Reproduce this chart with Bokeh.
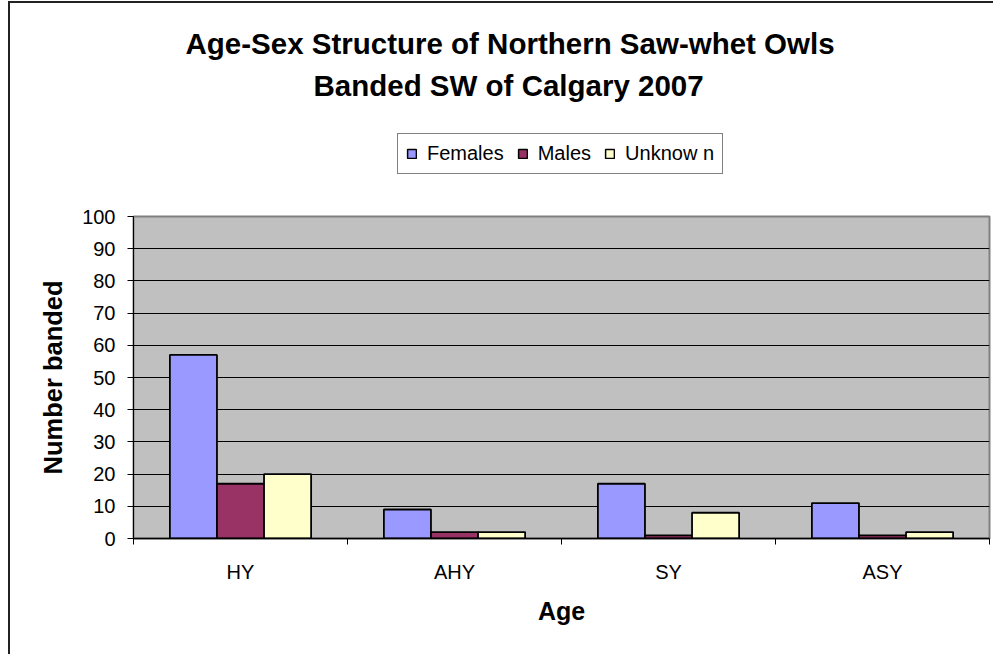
from bokeh.plotting import figure
from bokeh.layouts import column
from bokeh.models import ColumnDataSource, Range1d, FixedTicker, Label, Legend, LegendItem
from bokeh.transform import dodge
from bokeh.embed import file_html
from bokeh.resources import INLINE

# ---- data ----
ages = ["HY", "AHY", "SY", "ASY"]
females = [57, 9, 17, 11]
males = [17, 2, 1, 1]
unknown = [20, 2, 8, 2]
series_names = ["Females", "Males", "Unknow n"]
series_colors = ["#9999FF", "#993366", "#FFFFCC"]
y_ticks = list(range(0, 101, 10))
title_lines = ["Age-Sex Structure of Northern Saw-whet Owls", "Banded SW of Calgary 2007"]
x_title = "Age"
y_title = "Number banded"

FONT = "Liberation Sans"
W = 983
H_HEAD = 195
H_MAIN = 456

centers = [i + 0.5 for i in range(len(ages))]
src = ColumnDataSource(dict(x=centers, Females=females, Males=males, Unknown=unknown))
cols = ["Females", "Males", "Unknown"]
bw = 0.22
offsets = [-bw, 0, bw]

# ---------------- header (title + legend) ----------------
head = figure(width=W, height=H_HEAD, output_backend="svg", toolbar_location=None,
              x_range=Range1d(0, len(ages)), y_range=Range1d(0, 1),
              x_axis_location=None, y_axis_location=None,
              min_border=0, min_border_left=0, min_border_right=0,
              min_border_top=0, min_border_bottom=0)
head.grid.visible = False
head.outline_line_color = None
head.background_fill_color = "white"
head.border_fill_color = "white"

# legend keys only: one undefined (NaN) bar each, so nothing is drawn in the header
key_src = ColumnDataSource(dict(x=[float("nan")], top=[float("nan")]))
items = []
for name, color in zip(series_names, series_colors):
    r = head.vbar(x="x", top="top", width=bw, source=key_src, fill_color=color,
                  line_color="black", line_width=1.5)
    items.append(LegendItem(label=name, renderers=[r]))

lg = Legend(items=items, location=(264, 24), orientation="horizontal",
            padding=8, spacing=13, margin=0, glyph_width=11, glyph_height=11,
            label_standoff=10, label_text_font=FONT, label_text_font_size="20px",
            label_text_color="black", border_line_color="black",
            border_line_width=1, background_fill_color="white",
            background_fill_alpha=1)
head.add_layout(lg, "center")

title_x = [52, 180]
title_y = [155, 113]
for line, tx, ty in zip(title_lines, title_x, title_y):
    head.add_layout(Label(x=tx, y=ty, x_units="screen", y_units="screen",
                          text=line, text_align="left", text_baseline="alphabetic",
                          text_font=FONT, text_font_size="29.5px",
                          text_font_style="bold", text_color="black"))

# ---------------- main chart ----------------
p = figure(width=W, height=H_MAIN, output_backend="svg", toolbar_location=None,
           x_range=Range1d(0, len(ages)), y_range=Range1d(0, 100),
           min_border_left=123, min_border_right=4, min_border_top=18,
           min_border_bottom=116)
p.background_fill_color = "#C0C0C0"
p.border_fill_color = "white"
p.outline_line_color = "#808080"
p.outline_line_width = 2

for col, color, off in zip(cols, series_colors, offsets):
    p.vbar(x=dodge("x", off), top=col, width=bw, source=src,
           fill_color=color, line_color="black", line_width=1.8)

p.xgrid.visible = False
p.ygrid.ticker = FixedTicker(ticks=y_ticks[1:-1])
p.ygrid.grid_line_color = "black"
p.ygrid.grid_line_width = 1

ya = p.yaxis[0]
ya.ticker = FixedTicker(ticks=y_ticks)
ya.axis_line_color = "black"
ya.axis_line_width = 1
ya.major_tick_out = 6
ya.major_tick_in = 0
ya.major_tick_line_color = "black"
ya.minor_tick_line_color = None
ya.major_label_standoff = 12
ya.major_label_text_font = FONT
ya.major_label_text_font_size = "20px"
ya.major_label_text_color = "black"
ya.axis_label = y_title
ya.axis_label_text_font = FONT
ya.axis_label_text_font_size = "25.5px"
ya.axis_label_text_font_style = "bold"
ya.axis_label_text_color = "black"
ya.axis_label_standoff = 12

xa = p.xaxis[0]
xa.ticker = FixedTicker(ticks=centers, minor_ticks=list(range(len(ages) + 1)))
xa.major_label_overrides = {c: a for c, a in zip(centers, ages)}
xa.axis_line_color = "black"
xa.axis_line_width = 1.5
xa.major_tick_out = 0
xa.major_tick_in = 0
xa.minor_tick_out = 6
xa.minor_tick_in = 0
xa.minor_tick_line_color = "black"
xa.major_label_standoff = 16
xa.major_label_text_font = FONT
xa.major_label_text_font_size = "20px"
xa.major_label_text_color = "black"
xa.axis_label = x_title
xa.axis_label_text_font = FONT
xa.axis_label_text_font_size = "25px"
xa.axis_label_text_font_style = "bold"
xa.axis_label_text_color = "black"
xa.axis_label_standoff = 11

layout = column(head, p, spacing=0)
layout.styles = {"margin-left": "8px", "margin-top": "1px",
                 "border-left": "2px solid #222", "border-top": "2px solid #222"}

open("out.html", "w").write(file_html(layout, INLINE))
